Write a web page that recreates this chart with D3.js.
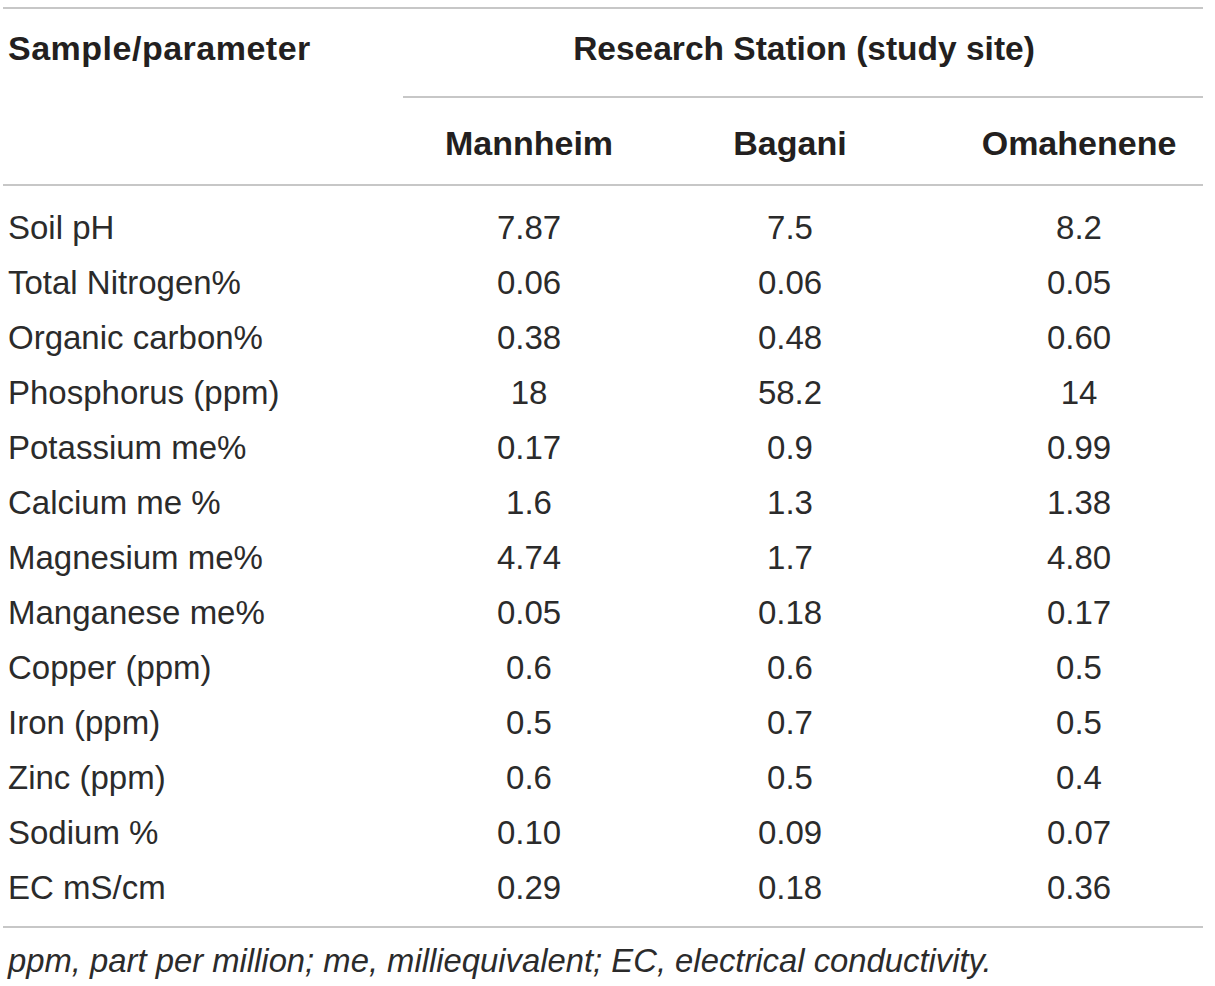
<!DOCTYPE html>
<html>
<head>
<meta charset="utf-8">
<script src="https://cdn.jsdelivr.net/npm/d3@7"></script>
<style>
  html, body { margin: 0; padding: 0; background: #fff; }
  svg { display: block; }
</style>
</head>
<body>
<svg id="chart" width="1215" height="986"></svg>
<script>
// ---- data ----
const parameters = [
  "Soil pH", "Total Nitrogen%", "Organic carbon%", "Phosphorus (ppm)",
  "Potassium me%", "Calcium me %", "Magnesium me%", "Manganese me%",
  "Copper (ppm)", "Iron (ppm)", "Zinc (ppm)", "Sodium %", "EC mS/cm"
];
const stations = ["Mannheim", "Bagani", "Omahenene"];
const mannheim  = ["7.87", "0.06", "0.38", "18",   "0.17", "1.6",  "4.74", "0.05", "0.6", "0.5", "0.6", "0.10", "0.29"];
const bagani    = ["7.5",  "0.06", "0.48", "58.2", "0.9",  "1.3",  "1.7",  "0.18", "0.6", "0.7", "0.5", "0.09", "0.18"];
const omahenene = ["8.2",  "0.05", "0.60", "14",   "0.99", "1.38", "4.80", "0.17", "0.5", "0.5", "0.4", "0.07", "0.36"];
const headerLeft = "Sample/parameter";
const headerGroup = "Research Station (study site)";
const footnote = "ppm, part per million; me, milliequivalent; EC, electrical conductivity.";

// ---- layout ----
const svg = d3.select("#chart");
const textColor = "#231f20";
const bodyColor = "#2b2b2b";
const ruleColor = "#b5b5b5";
const font = "'Liberation Sans', Arial, Helvetica, sans-serif";

const y = d3.scalePoint().domain(parameters).range([227, 887]);
const x = d3.scaleOrdinal().domain(stations).range([529, 790, 1079]);
const columns = { Mannheim: mannheim, Bagani: bagani, Omahenene: omahenene };

// rules
const rules = [
  { x1: 3, x2: 1203, y: 8 },
  { x1: 403, x2: 1203, y: 97 },
  { x1: 3, x2: 1203, y: 185 },
  { x1: 3, x2: 1203, y: 927 }
];
svg.selectAll("line.rule").data(rules).join("line")
  .attr("class", "rule")
  .attr("x1", d => d.x1).attr("x2", d => d.x2)
  .attr("y1", d => d.y).attr("y2", d => d.y)
  .attr("stroke", ruleColor).attr("stroke-width", 1.5);

// headers
svg.append("text")
  .attr("x", 8).attr("y", 48)
  .attr("dominant-baseline", "central")
  .attr("font-family", font).attr("font-weight", "bold").attr("font-size", 34)
  .attr("letter-spacing", 0.5)
  .attr("fill", textColor)
  .text(headerLeft);

svg.append("text")
  .attr("x", 804).attr("y", 48)
  .attr("text-anchor", "middle")
  .attr("dominant-baseline", "central")
  .attr("font-family", font).attr("font-weight", "bold").attr("font-size", 33.5)
  .attr("fill", textColor)
  .text(headerGroup);

svg.selectAll("text.station").data(stations).join("text")
  .attr("class", "station")
  .attr("x", d => x(d)).attr("y", 143)
  .attr("text-anchor", "middle")
  .attr("dominant-baseline", "central")
  .attr("font-family", font).attr("font-weight", "bold").attr("font-size", 34)
  .attr("fill", textColor)
  .text(d => d);

// body: parameter names
svg.selectAll("text.param").data(parameters).join("text")
  .attr("class", "param")
  .attr("x", 8).attr("y", d => y(d))
  .attr("dominant-baseline", "central")
  .attr("font-family", font).attr("font-size", 33)
  .attr("fill", bodyColor)
  .text(d => d);

// body: values
stations.forEach(st => {
  svg.selectAll("text.val-" + st)
    .data(parameters.map((p, i) => ({ p, v: columns[st][i] })))
    .join("text")
    .attr("class", "val-" + st)
    .attr("x", x(st)).attr("y", d => y(d.p))
    .attr("text-anchor", "middle")
    .attr("dominant-baseline", "central")
    .attr("font-family", font).attr("font-size", 33)
    .attr("fill", bodyColor)
    .text(d => d.v);
});

// footnote
svg.append("text")
  .attr("x", 8).attr("y", 960)
  .attr("dominant-baseline", "central")
  .attr("font-family", font).attr("font-style", "italic").attr("font-size", 32.8)
  .attr("fill", bodyColor)
  .text(footnote);
</script>
</body>
</html>
